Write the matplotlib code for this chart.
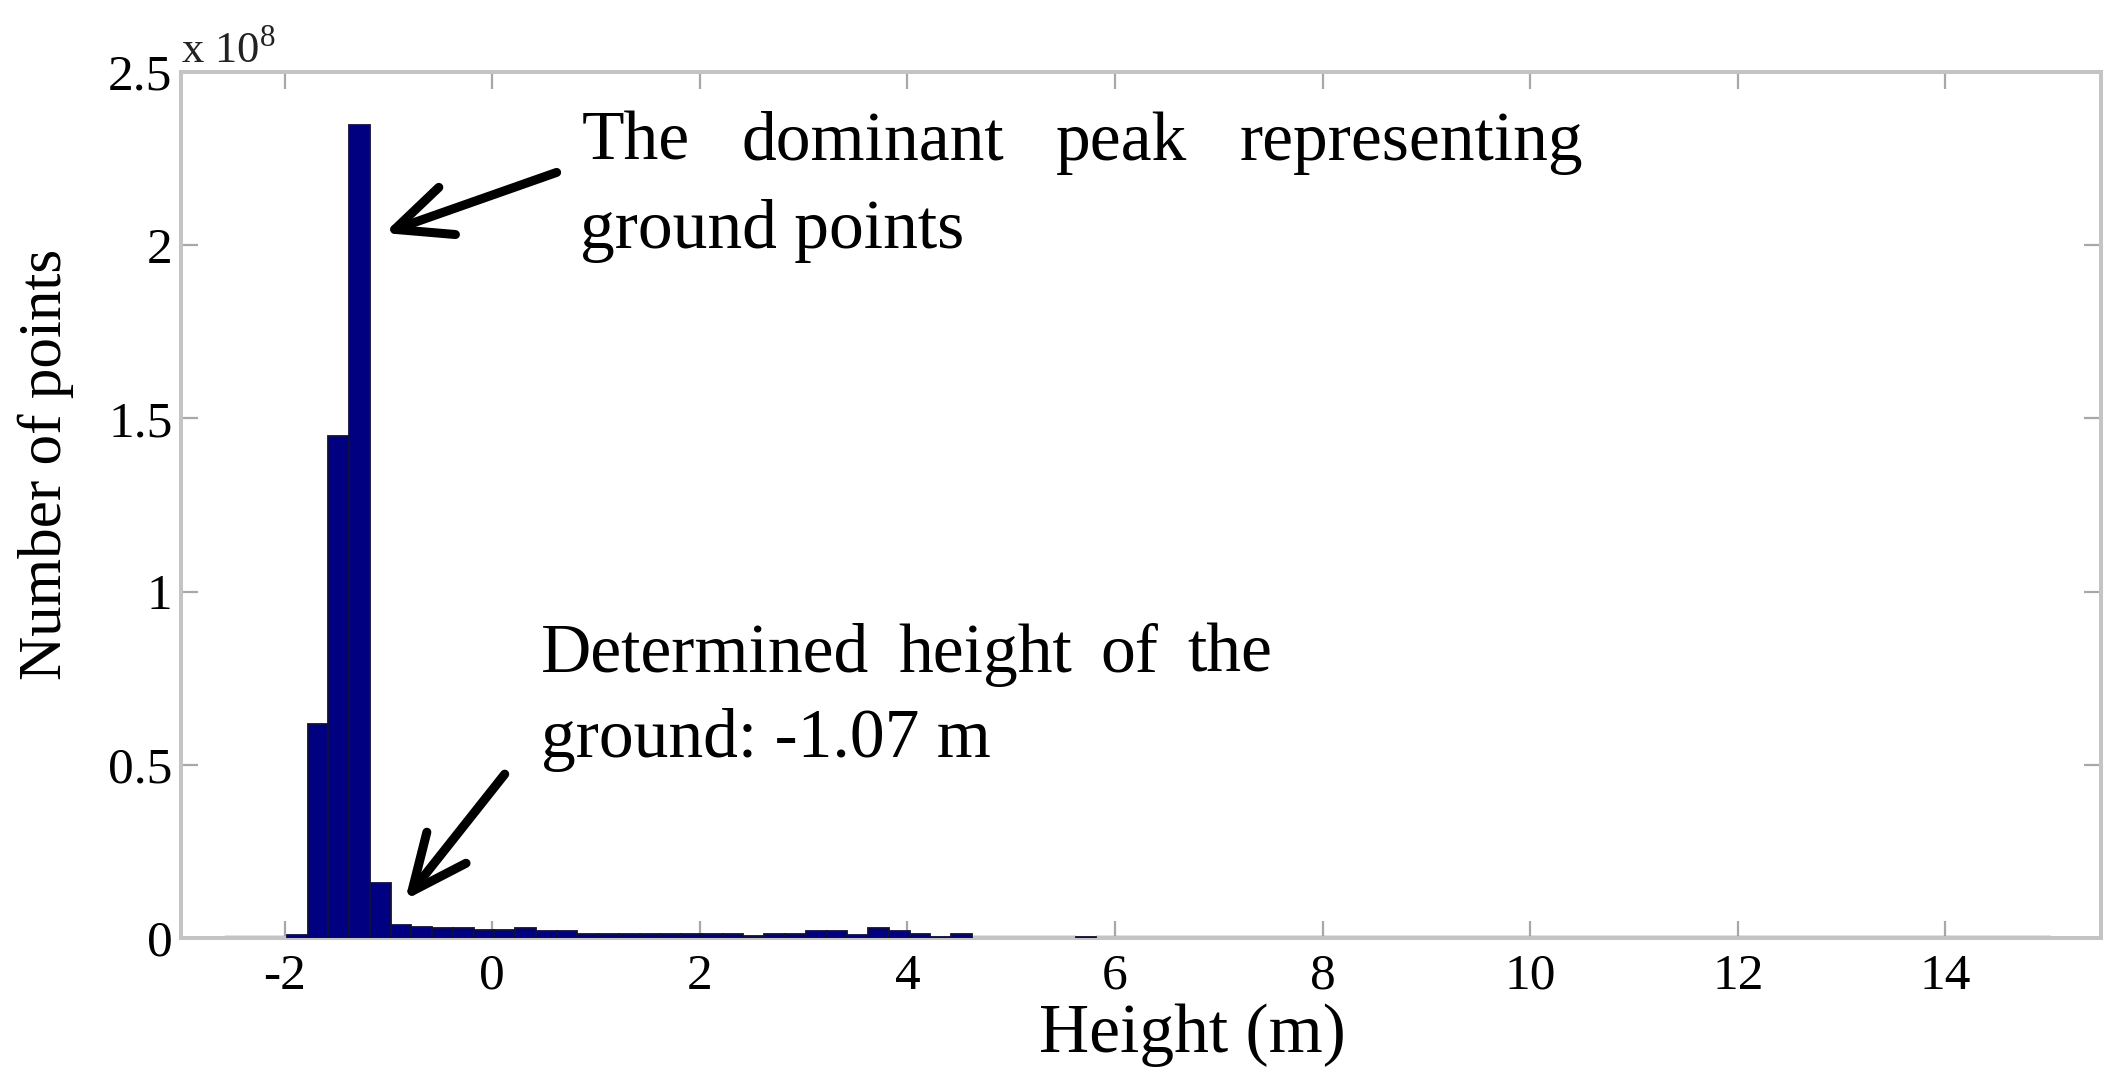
import matplotlib
matplotlib.use("Agg")
import matplotlib.pyplot as plt
import numpy as np

plt.rcParams['font.family'] = ['Liberation Serif', 'DejaVu Serif']
plt.rcParams['mathtext.fontset'] = 'custom'
plt.rcParams['mathtext.rm'] = 'Liberation Serif'

# Histogram data (heights in m, counts of points)
bin_start = -2.58
bin_width = 0.2
counts = [0, 0, 0, 0.008e8, 0.618e8, 1.45e8, 2.347e8, 0.159e8,
          0.0375e8, 0.033e8, 0.028e8, 0.028e8, 0.024e8, 0.024e8, 0.028e8, 0.019e8,
          0.019e8, 0.011e8, 0.011e8, 0.011e8, 0.011e8, 0.011e8, 0.011e8, 0.012e8,
          0.012e8, 0.007e8, 0.012e8, 0.012e8, 0.019e8, 0.019e8, 0.010e8, 0.028e8,
          0.019e8, 0.012e8, 0.002e8, 0.012e8, 0, 0, 0, 0, 0, 0.002e8] + [0] * 46

x_ticks = [-2, 0, 2, 4, 6, 8, 10, 12, 14]
y_ticks = [0, 0.5e8, 1e8, 1.5e8, 2e8, 2.5e8]
y_ticklabels = ['0', '0.5', '1', '1.5', '2', '2.5']

x_label = 'Height (m)'
y_label = 'Number of points'
annot1_line1 = ['The', 'dominant', 'peak', 'representing']
annot1_line2 = 'ground points'
annot2_line1 = ['Determined', 'height', 'of', 'the']
annot2_line2 = 'ground: -1.07 m'

W, H = 2121, 1082
fig = plt.figure(figsize=(W / 100, H / 100), dpi=100)
ax = fig.add_axes([0.0853, 0.1331, 0.9906 - 0.0853, 0.9335 - 0.1331])

edges = bin_start + bin_width * np.arange(len(counts))
counts = np.array(counts, dtype=float)
nz = counts > 0
ax.bar(edges[~nz], counts[~nz], width=bin_width, align='edge',
       color='#000080', edgecolor='#858585', linewidth=3.2, zorder=2)
ax.bar(edges[nz], counts[nz], width=bin_width, align='edge',
       color='#000080', edgecolor='#10103a', linewidth=1.3, zorder=3)

ax.set_xlim(-3, 15.5)
ax.set_ylim(0, 2.5e8)
ax.set_xticks(x_ticks)
ax.set_xticklabels([str(t) for t in x_ticks])
ax.set_yticks(y_ticks)
ax.set_yticklabels(y_ticklabels)

for s in ax.spines.values():
    s.set_color('#c4c4c4')
    s.set_linewidth(2.9)
ax.tick_params(direction='in', length=12, width=1.6, color='#a8a8a8',
               top=True, right=True, labelsize=37, labelcolor='black')
ax.tick_params(axis='x', pad=11)
ax.tick_params(axis='y', pad=6)

ax.text(0.0, 1.0104, r'x 10$^{8}$', transform=ax.transAxes, fontsize=32,
        ha='left', va='baseline', color='#222222')

ax.set_xlabel(x_label, fontsize=50, labelpad=2)
ax.xaxis.set_label_coords(0.527, -0.075)
ax.set_ylabel(y_label, fontsize=44)
ax.yaxis.set_label_coords(-0.0557, 0.547)

fs = 50
fig.canvas.draw()
renderer = fig.canvas.get_renderer()
inv = ax.transData.inverted()


def justify(words, x0_px, x1_px, y_data):
    # place words so that the line spans x0_px..x1_px (figure pixels from left)
    texts = [ax.text(0, y_data, w, fontsize=fs, ha='left', va='baseline') for w in words]
    widths = [t.get_window_extent(renderer).width for t in texts]
    gap = (x1_px - x0_px - sum(widths)) / (len(words) - 1)
    x = x0_px
    for t, w in zip(texts, widths):
        xd = inv.transform((x, 0))[0]
        t.set_x(xd)
        x += w + gap


def px_to_x(px):
    return inv.transform((px, 0))[0]


# Annotation 1 (justified first line)
justify(annot1_line1, 582, 1583, 2.246e8)
ax.text(px_to_x(580), 1.993e8, annot1_line2, fontsize=fs, ha='left', va='baseline')
# Annotation 2
justify(annot2_line1, 541, 1272, 0.768e8)
ax.text(px_to_x(541), 0.5225e8, annot2_line2, fontsize=fs, ha='left', va='baseline')

arrow_kw = dict(arrowstyle='->,head_length=2.0,head_width=0.9', lw=6.5,
                color='black', shrinkA=0, shrinkB=0, mutation_scale=20)
ax.annotate('', xy=(-1.04, 2.035e8), xytext=(0.62, 2.21e8), arrowprops=arrow_kw)
ax.annotate('', xy=(-0.84, 0.11e8), xytext=(0.12, 0.473e8), arrowprops=arrow_kw)

fig.savefig('out.png', dpi=100)
